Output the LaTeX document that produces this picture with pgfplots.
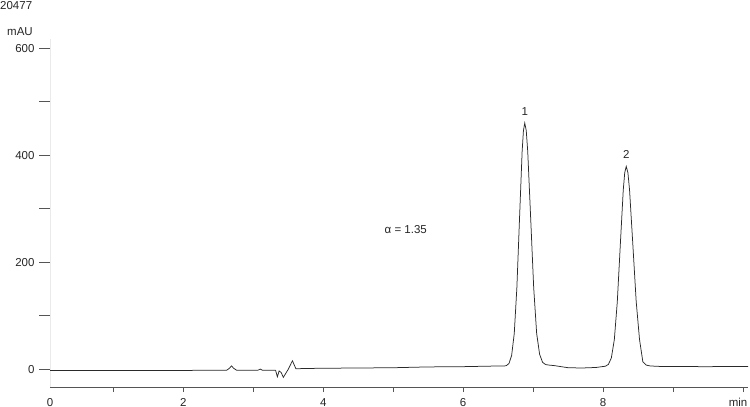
\documentclass[border=0pt]{standalone}
\usepackage{pgfplots}
\pgfplotsset{compat=1.18}
\usepackage{fontspec}
\setmainfont{Liberation Sans}

\definecolor{axisgray}{HTML}{555555}
\definecolor{yline}{HTML}{EAEAEA}
\definecolor{trace}{HTML}{2A2A2A}

\begin{document}
\fontsize{11.5bp}{13bp}\selectfont
\begin{tikzpicture}
\useasboundingbox (0,0) rectangle (750bp,407bp);
\begin{axis}[
  at={(50bp,20bp)}, anchor=south west,
  scale only axis, width=698bp, height=348bp,
  xmin=0.096, xmax=10.07, ymin=-33, ymax=617,
  axis x line*=bottom, axis y line*=left,
  x axis line style={axisgray, line width=0.8bp},
  y axis line style={yline, line width=0.8bp},
  tick align=outside,
  major tick length=10.5bp,
  xtick style={/pgfplots/major tick length=5bp, axisgray, line width=0.8bp},
  ytick style={axisgray, line width=0.8bp},
  xtick={1,...,10}, xticklabels={,2,,4,,6,,8,,\hbox{\hskip-10bp min}},
  extra x ticks={0.096}, extra x tick labels={0},
  extra x tick style={major tick style={draw=none}},
  ytick={0,100,...,600}, yticklabels={0,,200,,400,,600},
  /pgf/number format/assume math mode=true,
  tick label style={font=\fontsize{11.5bp}{13bp}\selectfont, text=black!85},
  xticklabel style={yshift=3bp},
  yticklabel style={xshift=-1bp},
  clip=false,
]
\addplot[trace, line width=0.75bp] coordinates {
(0.096,-2) (0.5,-2) (1.0,-2.2) (1.5,-2) (2.0,-2) (2.5,-1.8) (2.62,-1.8)
(2.66,2) (2.69,6.5) (2.72,2) (2.76,-1.5) (3.0,-1.5) (3.07,-1.5) (3.1,0.5)
(3.13,-1.5) (3.30,-1.5) (3.32,-2) (3.345,-14) (3.37,-3) (3.40,-6) (3.43,-15)
(3.50,0) (3.545,12) (3.56,16) (3.58,10) (3.61,1) (3.64,1) (3.7,1.5)
(4.0,2) (4.5,2.5) (5.0,3) (5.5,4.5) (6.0,5) (6.4,6) (6.55,6)
(6.58,6.1) (6.6175,7) (6.655,11) (6.6925,26) (6.73,67) (6.7675,153)
(6.805,281) (6.8425,407) (6.86125,446) (6.88,460)
(6.90125,446) (6.9225,407) (6.965,281) (7.0075,153) (7.05,67) (7.0925,28)
(7.135,13) (7.1775,9) (7.22,8) (7.3,7) (7.5,3) (7.7,2.5) (7.9,3.5) (7.99,5.1)
(8.0325,5.8) (8.075,9.2) (8.1175,21.4) (8.16,55.6) (8.2025,126.4)
(8.245,231.8) (8.2875,335) (8.30875,367.5) (8.33,379)
(8.35375,367.5) (8.3775,335) (8.425,231.8) (8.4725,126.4) (8.52,55.6)
(8.5675,14) (8.615,8) (8.6625,6.5) (8.72,6) (8.8,5.5) (9.0,5.2) (9.5,5)
(10.07,5.5)
};
\node[text=black!85] at (axis cs:6.88,481) {1};
\node[text=black!85] at (axis cs:8.33,402) {2};
\node[text=black!85] at (axis cs:5.18,262) {α = 1.35};
\end{axis}
\node[anchor=east, inner sep=0pt, text=black!85] at (33bp,375bp) {mAU};
\node[anchor=west, inner sep=0pt, text=black!85] at (0bp,401bp) {20477};
\end{tikzpicture}
\end{document}
